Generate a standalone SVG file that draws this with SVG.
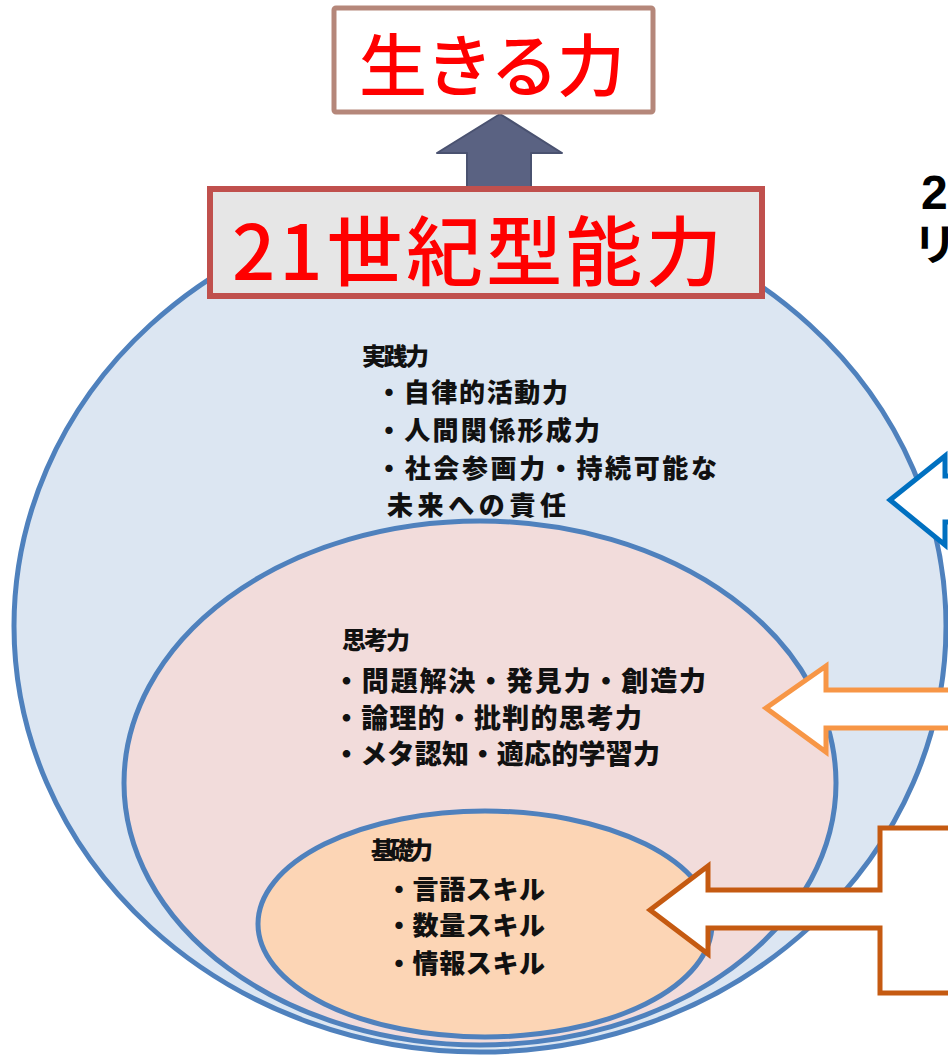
<svg xmlns="http://www.w3.org/2000/svg" width="948" height="1057" viewBox="0 0 948 1057">
<style>
.ring{stroke:#4f81bd;stroke-width:5}
.lbl{font-family:"Noto Sans CJK JP","Noto Sans",sans-serif;font-weight:900;fill:#111}
.red{font-family:"Noto Sans CJK JP","Noto Sans",sans-serif;font-weight:500;fill:#ff0000}
.side{font-family:"Liberation Sans","Noto Sans CJK JP",sans-serif;font-weight:700;fill:#000}
</style>
<rect width="948" height="1057" fill="#ffffff"/>
<g id="outer">
<ellipse class="ring" cx="480" cy="626" rx="466" ry="426" fill="#dce6f2"/>
<text class="lbl" font-size="24" x="362" y="365" textLength="67" lengthAdjust="spacing">実践力</text>
<text class="lbl" font-size="26" x="376" y="402" textLength="192" lengthAdjust="spacing">・自律的活動力</text>
<text class="lbl" font-size="26" x="376" y="440" textLength="224" lengthAdjust="spacing">・人間関係形成力</text>
<text class="lbl" font-size="26" x="376" y="478" textLength="341" lengthAdjust="spacing">・社会参画力・持続可能な</text>
<text class="lbl" font-size="26" x="387" y="515" textLength="179" lengthAdjust="spacing">未来への責任</text>
</g>
<g id="middle">
<ellipse class="ring" cx="480" cy="783" rx="356" ry="262" fill="#f2dcdb"/>
<text class="lbl" font-size="24" x="342" y="649" textLength="68" lengthAdjust="spacing">思考力</text>
<text class="lbl" font-size="27" x="333" y="691" textLength="373" lengthAdjust="spacing">・問題解決・発見力・創造力</text>
<text class="lbl" font-size="27" x="333" y="728" textLength="309" lengthAdjust="spacing">・論理的・批判的思考力</text>
<text class="lbl" font-size="27" x="333" y="764" textLength="327" lengthAdjust="spacing">・メタ認知・適応的学習力</text>
</g>
<g id="inner">
<ellipse class="ring" cx="485" cy="924" rx="227" ry="113" fill="#fcd5b5"/>
<text class="lbl" font-size="24" x="371" y="859" textLength="62" lengthAdjust="spacing">基礎力</text>
<text class="lbl" font-size="26" x="386" y="899" textLength="159" lengthAdjust="spacing">・言語スキル</text>
<text class="lbl" font-size="26" x="386" y="935" textLength="159" lengthAdjust="spacing">・数量スキル</text>
<text class="lbl" font-size="26" x="386" y="973" textLength="159" lengthAdjust="spacing">・情報スキル</text>
</g>
<g id="connectors">
<polygon points="500,114 562,153 531,153 531,190 467,190 467,153 437,153" fill="#5a6282" stroke="#4a5270" stroke-width="2" stroke-linejoin="round"/>
<polygon points="890,500 945,456 945,476 1000,476 1000,522 945,522 945,545" fill="#ffffff" stroke="#0070c0" stroke-width="5"/>
<polygon points="766,708 826,666 826,690 1000,690 1000,728 826,728 826,752" fill="#ffffff" stroke="#f79646" stroke-width="5"/>
<polygon points="650,910 708,866 708,890 880,890 880,828 1000,828 1000,993 880,993 880,928 708,928 708,954" fill="#ffffff" stroke="#c55a11" stroke-width="5"/>
</g>
<g id="ikiru">
<rect x="334" y="8" width="319" height="104" fill="#ffffff" stroke="#b5877a" stroke-width="5" rx="2"/>
<text class="red" font-size="68" x="359" y="91" textLength="266" lengthAdjust="spacing">生きる力</text>
</g>
<g id="nijuichi">
<rect x="210" y="189" width="552" height="107" fill="#e6e6e6" stroke="#c0504d" stroke-width="6"/>
<text class="red" font-size="76" x="232" y="280" textLength="490" lengthAdjust="spacing">21世紀型能力</text>
</g>
<g id="title">
<text class="side" font-size="48" x="921" y="209">2</text>
<text class="side" font-size="44" x="913" y="261">リ</text>
</g>
</svg>
